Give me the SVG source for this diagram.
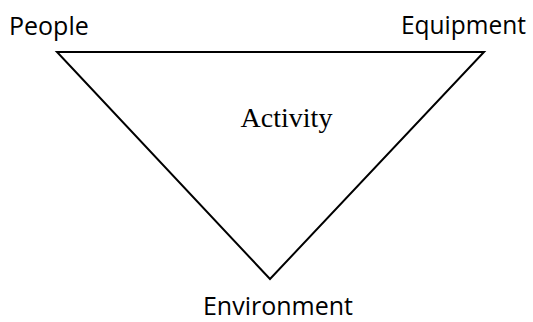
<svg xmlns="http://www.w3.org/2000/svg" width="533" height="322" viewBox="0 0 533 322">
<style>
.lbl{font-family:"Open Sans","Noto Sans",sans-serif;font-size:25px;fill:#000}
.act{font-family:"Liberation Serif",serif;font-size:28px;fill:#000}
.edge{fill:none;stroke:#000;stroke-width:2}
</style>
<rect width="533" height="322" fill="#fff"/>
<g id="connectors">
<polygon class="edge" points="57,52 484,52 270,279"/>
</g>
<g id="people"><text class="lbl" x="9" y="35">People</text></g>
<g id="equipment"><text class="lbl" x="401" y="34" textLength="125" lengthAdjust="spacingAndGlyphs">Equipment</text></g>
<g id="environment"><text class="lbl" x="278" y="315" text-anchor="middle">Environment</text></g>
<g id="activity"><text class="act" x="286.5" y="127" text-anchor="middle">Activity</text></g>
</svg>
